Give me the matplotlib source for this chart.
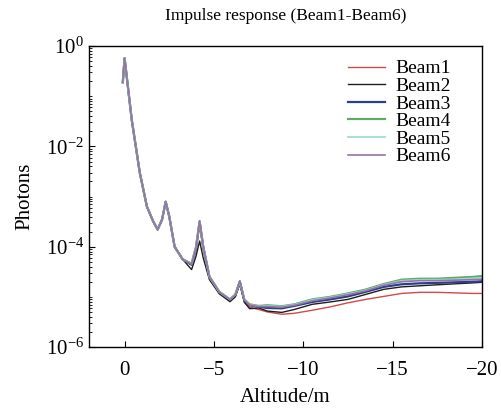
import matplotlib
matplotlib.use("Agg")
import matplotlib.pyplot as plt
from matplotlib.ticker import LogLocator, NullFormatter, FixedLocator

plt.rcParams['font.family'] = ['Liberation Serif', 'DejaVu Serif']
plt.rcParams['mathtext.fontset'] = 'stix'

altitude = [0.1, 0.0, -0.4, -0.85, -1.25, -1.6, -1.85, -2.1, -2.3, -2.5, -2.8, -3.25,
            -3.75, -4.0, -4.2, -4.4, -4.75, -5.3, -5.9, -6.2, -6.45, -6.7, -7.0, -7.5,
            -8.0, -8.8, -9.5, -10.5, -11.5, -12.5, -13.5, -14.5, -15.5, -16.5, -17.5,
            -18.5, -19.5, -20.0]

head = [0.19, 0.575, 0.034, 3.0e-3, 6.3e-4, 3.2e-4, 2.2e-4, 3.5e-4, 7.9e-4, 4.0e-4,
        1.0e-4, 5.6e-5]

beam1 = head + [4.3e-5, 8.5e-5, 2.8e-4, 9.0e-5, 2.4e-5, 1.2e-5, 8.4e-6, 1.05e-5, 1.9e-5,
                8.2e-6, 6.2e-6, 5.6e-6, 5.0e-6, 4.5e-6, 4.7e-6, 5.4e-6, 6.3e-6, 7.6e-6,
                8.9e-6, 1.02e-5, 1.17e-5, 1.23e-5, 1.23e-5, 1.2e-5, 1.17e-5, 1.17e-5]
beam2 = head + [3.5e-5, 6.5e-5, 1.3e-4, 6.0e-5, 2.2e-5, 1.15e-5, 8.0e-6, 1.0e-5, 1.8e-5,
                7.8e-6, 5.8e-6, 6.0e-6, 5.2e-6, 4.9e-6, 5.6e-6, 7.1e-6, 7.9e-6, 8.9e-6,
                1.12e-5, 1.41e-5, 1.58e-5, 1.66e-5, 1.74e-5, 1.82e-5, 1.9e-5, 1.95e-5]
beam3 = head + [4.4e-5, 9.5e-5, 3.1e-4, 1.0e-4, 2.5e-5, 1.25e-5, 8.8e-6, 1.1e-5, 2.0e-5,
                8.6e-6, 6.8e-6, 6.3e-6, 6.0e-6, 5.9e-6, 6.6e-6, 7.9e-6, 8.9e-6, 1.02e-5,
                1.26e-5, 1.58e-5, 1.78e-5, 1.86e-5, 1.9e-5, 1.95e-5, 2.0e-5, 2.05e-5]
beam4 = head + [4.6e-5, 1.0e-4, 3.2e-4, 1.0e-4, 2.5e-5, 1.26e-5, 8.9e-6, 1.12e-5, 2.0e-5,
                8.9e-6, 7.1e-6, 6.6e-6, 6.8e-6, 6.5e-6, 7.1e-6, 8.9e-6, 1.0e-5, 1.17e-5,
                1.4e-5, 1.8e-5, 2.2e-5, 2.3e-5, 2.3e-5, 2.4e-5, 2.5e-5, 2.6e-5]
beam5 = head + [4.6e-5, 1.0e-4, 3.2e-4, 1.0e-4, 2.5e-5, 1.26e-5, 8.9e-6, 1.12e-5, 2.0e-5,
                8.9e-6, 7.0e-6, 6.5e-6, 6.6e-6, 6.4e-6, 7.0e-6, 8.7e-6, 9.8e-6, 1.14e-5,
                1.36e-5, 1.75e-5, 2.1e-5, 2.2e-5, 2.2e-5, 2.25e-5, 2.35e-5, 2.4e-5]
beam6 = head + [4.5e-5, 9.8e-5, 3.3e-4, 1.0e-4, 2.5e-5, 1.25e-5, 8.8e-6, 1.1e-5, 2.1e-5,
                8.7e-6, 6.9e-6, 6.4e-6, 6.4e-6, 6.2e-6, 6.8e-6, 8.3e-6, 9.5e-6, 1.1e-5,
                1.32e-5, 1.7e-5, 2.0e-5, 2.1e-5, 2.1e-5, 2.15e-5, 2.2e-5, 2.25e-5]

labels = ['Beam1', 'Beam2', 'Beam3', 'Beam4', 'Beam5', 'Beam6']
series = [beam1, beam2, beam3, beam4, beam5, beam6]
colors = ['#d24a45', '#1e1e1e', '#2b3f8c', '#63a863', '#96d8d8', '#9a72a6']
widths = [1.0, 1.0, 1.6, 1.6, 1.2, 1.2]

fig = plt.figure(figsize=(5.02, 4.08), dpi=100)
ax = fig.add_axes([0.177, 0.1495, 0.783, 0.7375])

for y, lab, c, w in zip(series, labels, colors, widths):
    ax.plot(altitude, y, color=c, lw=w, label=lab)

ax.set_yscale('log')
ax.set_ylim(1e-6, 1e0)
ax.set_xlim(2, -20)
ax.set_xticks([0, -5, -10, -15, -20])
ax.yaxis.set_major_locator(FixedLocator([1e-6, 1e-4, 1e-2, 1e0]))
ax.yaxis.set_minor_locator(LogLocator(base=10, subs=[1, 2, 3, 4, 5, 6, 7, 8, 9], numticks=20))
ax.yaxis.set_minor_formatter(NullFormatter())
ax.tick_params(axis='both', which='both', direction='in', top=False, right=False,
               labelsize=15)
ax.tick_params(axis='y', which='major', length=4)
ax.tick_params(axis='y', which='minor', length=2)
ax.tick_params(axis='x', which='major', length=4, pad=10)
for s in ax.spines.values():
    s.set_linewidth(1.0)

ax.set_xlabel('Altitude/m', fontsize=15, labelpad=6)
ax.set_ylabel('Photons', fontsize=15, labelpad=8)
ax.set_title('Impulse response (Beam1-Beam6)', fontsize=12.5, pad=19)

leg = ax.legend(loc='upper right', frameon=False, fontsize=14, labelspacing=0.0,
                handlelength=1.9, handletextpad=0.5, borderaxespad=0.3,
                bbox_to_anchor=(0.955, 1.0))

fig.savefig('out.png', dpi=100)
